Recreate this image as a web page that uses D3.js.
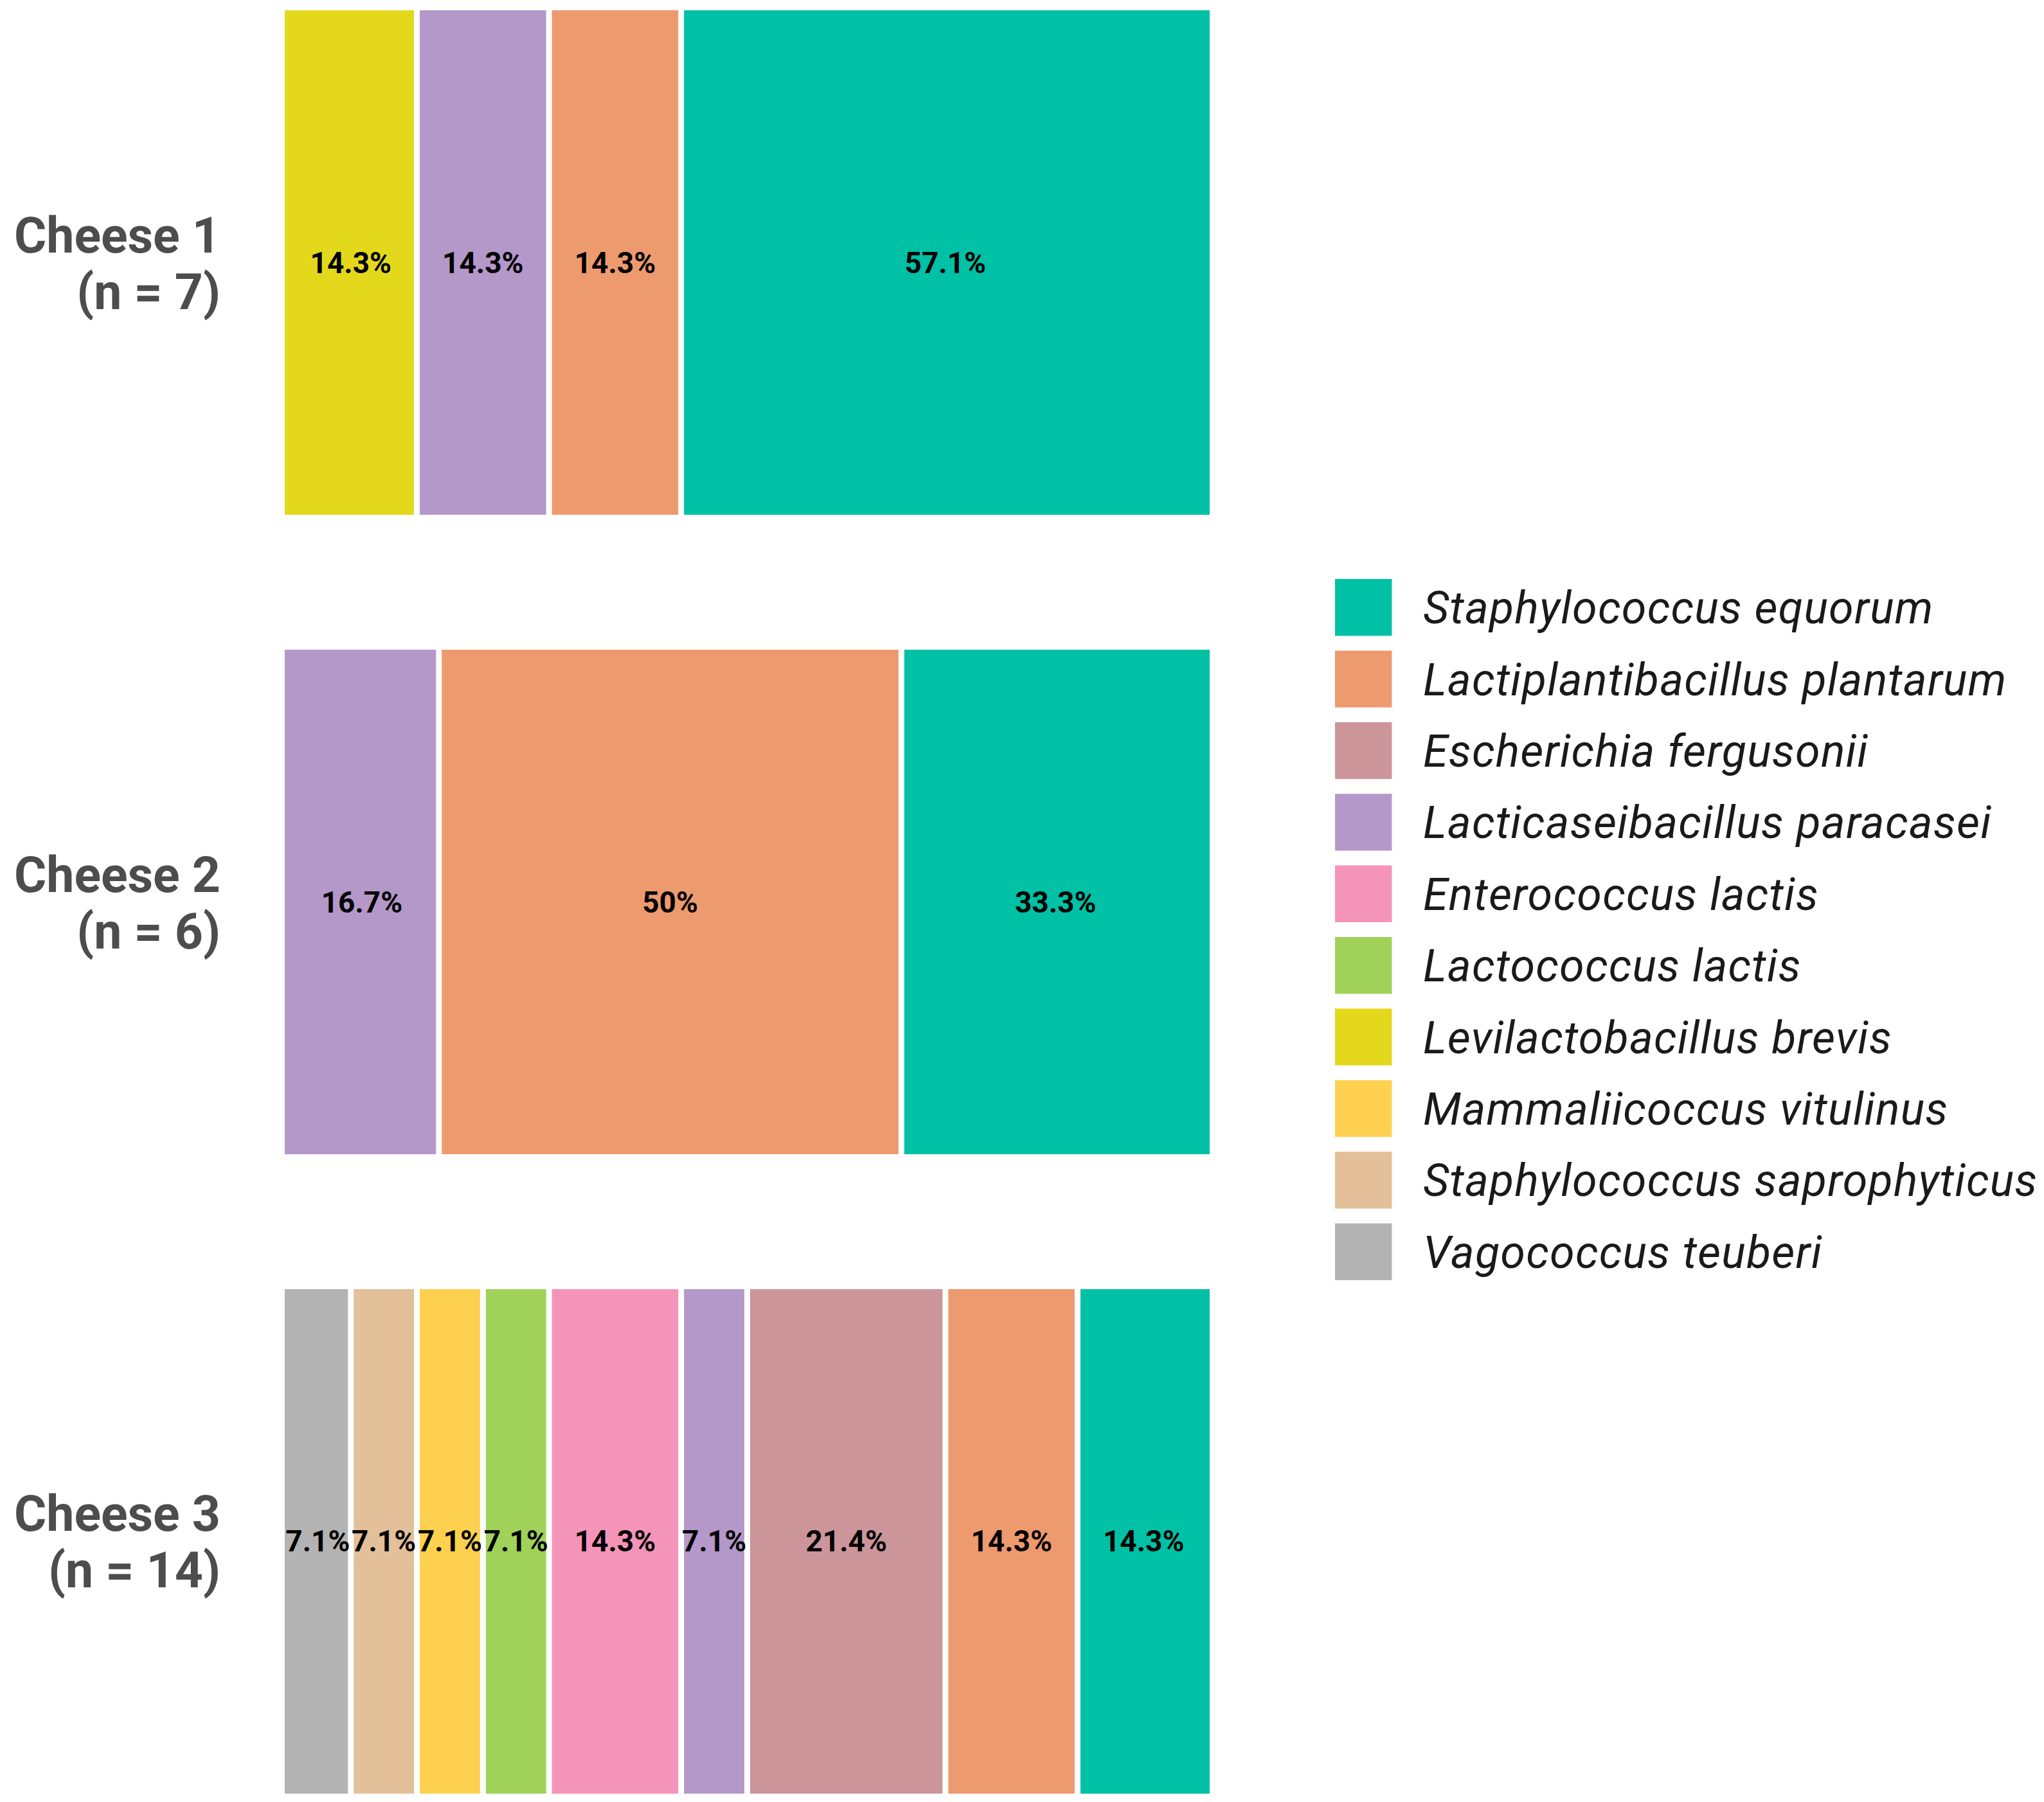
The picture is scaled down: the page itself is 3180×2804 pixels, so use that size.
<!DOCTYPE html>
<html>
<head>
<meta charset="utf-8">
<script src="https://cdn.jsdelivr.net/npm/d3@7"></script>
<style>
  body { margin: 0; background: #fff; }
  svg { display: block; font-family: Roboto, "Noto Sans", sans-serif; }
</style>
</head>
<body>
<div id="chart"></div>
<script>
// cheeses and isolate counts (legend order of species)
const cheeses = ["Cheese 1", "Cheese 2", "Cheese 3"];
const sampleSizes = [7, 6, 14];

const species = [
    "Staphylococcus equorum",
    "Lactiplantibacillus plantarum",
    "Escherichia fergusonii",
    "Lacticaseibacillus paracasei",
    "Enterococcus lactis",
    "Lactococcus lactis",
    "Levilactobacillus brevis",
    "Mammaliicoccus vitulinus",
    "Staphylococcus saprophyticus",
    "Vagococcus teuberi"
];
const speciesColors = [
    "#00C1A5", "#EE9A6F", "#CC959A", "#B498CA", "#F594B9",
    "#A0D25A", "#E3D81C", "#FDD14F", "#E3C099", "#B3B3B3"
];

const cheese1Counts = [4, 1, 0, 1, 0, 0, 1, 0, 0, 0];
const cheese2Counts = [2, 3, 0, 1, 0, 0, 0, 0, 0, 0];
const cheese3Counts = [2, 2, 3, 1, 2, 1, 0, 1, 1, 1];
const countsByCheese = [cheese1Counts, cheese2Counts, cheese3Counts];

var width = 3180, height = 2804;

var svg = d3.select("#chart")
    .append("svg")
    .attr("width", width)
    .attr("height", height);

svg.append("rect")
    .attr("width", width)
    .attr("height", height)
    .attr("fill", "#fff");

// scales
var x = d3.scaleLinear()
    .domain([0, 1])
    .range([443, 1882]);

var y = d3.scaleBand()
    .domain(cheeses)
    .range([16, 2791])
    .paddingInner(0.211)
    .paddingOuter(0);

var color = d3.scaleOrdinal()
    .domain(species)
    .range(speciesColors);

var gap = 4.5;
var fmt = v => (+v.toFixed(1)) + "%";

// build the stacked segments, stacked in reverse legend order
var segments = [];
cheeses.forEach((c, ci) => {
    var n = sampleSizes[ci];
    var acc = 0;
    species.slice().reverse().forEach(sp => {
        var k = countsByCheese[ci][species.indexOf(sp)];
        if (k > 0) {
            segments.push({ cheese: c, species: sp, start: acc / n, end: (acc + k) / n, share: k / n * 100 });
            acc += k;
        }
    });
});

var bars = svg.append("g").attr("class", "bars");

bars.selectAll("rect")
    .data(segments)
    .enter()
    .append("rect")
    .attr("x", d => x(d.start) + (d.start > 0 ? gap : 0))
    .attr("width", d => x(d.end) - x(d.start) - (d.start > 0 ? gap : 0) - (d.end < 1 - 1e-9 ? gap : 0))
    .attr("y", d => y(d.cheese))
    .attr("height", y.bandwidth())
    .attr("fill", d => color(d.species));

bars.selectAll(".bar-label")
    .data(segments)
    .enter()
    .append("text")
    .attr("class", "bar-label")
    .attr("x", d => (x(d.start) + x(d.end)) / 2)
    .attr("y", d => y(d.cheese) + y.bandwidth() / 2 + 16)
    .attr("text-anchor", "middle")
    .attr("font-size", 46)
    .attr("font-weight", 700)
    .attr("fill", "#000")
    .text(d => fmt(d.share));

// cheese labels on the left
var rowLabels = svg.append("g")
    .selectAll("text")
    .data(cheeses)
    .enter()
    .append("text")
    .attr("text-anchor", "end")
    .attr("font-size", 77)
    .attr("font-weight", 700)
    .attr("fill", "#4D4D4D");

rowLabels.append("tspan")
    .attr("x", 343)
    .attr("y", d => y(d) + y.bandwidth() / 2 - 16)
    .text(d => d);

rowLabels.append("tspan")
    .attr("x", 343)
    .attr("y", d => y(d) + y.bandwidth() / 2 + 72)
    .text((d, i) => "(n = " + sampleSizes[i] + ")");

// legend
var ly = d3.scaleBand()
    .domain(species)
    .range([901, 1992])
    .paddingInner(0.2065)
    .paddingOuter(0);

var legend = svg.append("g").attr("class", "legend");

legend.selectAll("rect")
    .data(species)
    .enter()
    .append("rect")
    .attr("x", 2077)
    .attr("y", d => ly(d))
    .attr("width", ly.bandwidth())
    .attr("height", ly.bandwidth())
    .attr("fill", d => color(d));

legend.selectAll("text")
    .data(species)
    .enter()
    .append("text")
    .attr("x", 2214)
    .attr("y", d => ly(d) + ly.bandwidth() / 2 + 25)
    .attr("font-size", 70)
    .attr("letter-spacing", 1.2)
    .attr("font-style", "italic")
    .attr("fill", "#1A1A1A")
    .text(d => d);
</script>
</body>
</html>
